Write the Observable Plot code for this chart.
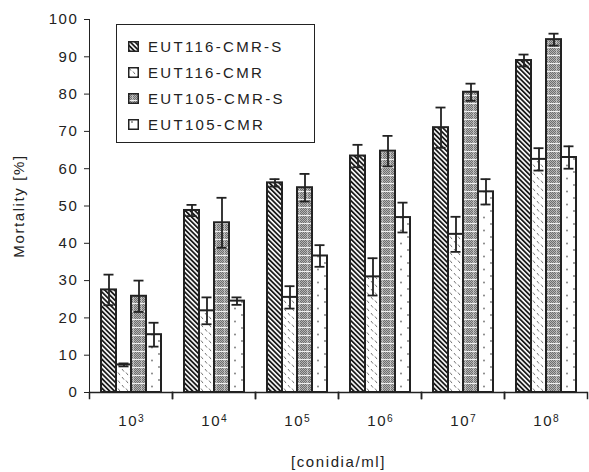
<!DOCTYPE html>
<html>
<head>
<meta charset="utf-8">
<script src="https://cdn.jsdelivr.net/npm/d3@7"></script>
<script src="https://cdn.jsdelivr.net/npm/@observablehq/plot@0.6"></script>
<style>
  body { margin: 0; background: #fff; }
  #wrap { position: relative; width: 589px; height: 472px; font-family: "Liberation Sans", Arial, sans-serif; color: #222; }
  #legend { position: absolute; left: 116px; top: 24px; width: 199px; height: 119px; border: 1.5px solid #222; background: #fff; box-sizing: border-box; padding: 8px 0 0 11px; }
  .row { display: flex; align-items: center; height: 26px; font-size: 15px; letter-spacing: 2.3px; }
  .row svg { margin-right: 9px; flex: none; }
</style>
</head>
<body>
<svg width="0" height="0" style="position:absolute">
  <defs>
    <pattern id="pStripe" patternUnits="userSpaceOnUse" width="3.4" height="3.4" patternTransform="rotate(-45)">
      <rect width="3.4" height="3.4" fill="#fff"/>
      <rect width="1.8" height="3.4" fill="#1a1a1a"/>
    </pattern>
    <pattern id="pDash" patternUnits="userSpaceOnUse" width="8" height="8">
      <rect width="8" height="8" fill="#fff"/>
      <line x1="1" y1="1" x2="3" y2="3.6" stroke="#777" stroke-width="1"/>
      <line x1="5" y1="4.5" x2="7" y2="7.1" stroke="#777" stroke-width="1"/>
    </pattern>
    <pattern id="pChk" patternUnits="userSpaceOnUse" width="2" height="2">
      <rect width="2" height="2" fill="#b4b4b4"/>
      <rect width="1" height="1" fill="#6e6e6e"/>
      <rect x="1" y="1" width="1" height="1" fill="#6e6e6e"/>
    </pattern>
    <pattern id="pGrid" patternUnits="userSpaceOnUse" width="8" height="8">
      <rect width="8" height="8" fill="url(#pChk)"/>
      <rect y="7" width="8" height="1" fill="#fff" opacity="0.85"/>
      <rect x="4" width="1" height="8" fill="#fff" opacity="0.35"/>
    </pattern>
    <pattern id="pDot" patternUnits="userSpaceOnUse" width="14" height="13">
      <rect width="14" height="13" fill="#fff"/>
      <circle cx="4" cy="3" r="0.9" fill="#777"/>
      <circle cx="11" cy="9.5" r="0.9" fill="#777"/>
    </pattern>
  </defs>
</svg>
<div id="wrap">
  <div id="chart"></div>
  <div id="legend"></div>
</div>
<script>
// ---- data ----
const concentrations = ["10³", "10⁴", "10⁵", "10⁶", "10⁷", "10⁸"];
const seriesNames = ["EUT116-CMR-S", "EUT116-CMR", "EUT105-CMR-S", "EUT105-CMR"];
const eut116S     = [27.5, 48.8, 56.2, 63.4, 71.0, 89.0];
const eut116SErr  = [4.1, 1.5, 1.0, 3.0, 5.4, 1.6];
const eut116      = [7.4, 21.9, 25.5, 31.0, 42.4, 62.5];
const eut116Err   = [0.4, 3.6, 3.0, 5.0, 4.7, 3.0];
const eut105S     = [25.8, 45.5, 54.9, 64.7, 80.5, 94.6];
const eut105SErr  = [4.2, 6.7, 3.7, 4.1, 2.3, 1.6];
const eut105      = [15.5, 24.5, 36.6, 46.9, 53.8, 63.0];
const eut105Err   = [3.2, 1.0, 2.9, 4.0, 3.4, 3.0];
const yTicks = [0, 10, 20, 30, 40, 50, 60, 70, 80, 90, 100];

const patterns = ["url(#pStripe)", "url(#pDash)", "url(#pGrid)", "url(#pDot)"];

const valueSets = [eut116S, eut116, eut105S, eut105];
const errSets = [eut116SErr, eut116Err, eut105SErr, eut105Err];
const rows = [];
concentrations.forEach((c, i) => {
  seriesNames.forEach((s, j) => {
    rows.push({conc: c, series: s, v: valueSets[j][i], e: errSets[j][i]});
  });
});

const ink = "#222";
const chart = Plot.plot({
  width: 589,
  height: 472,
  marginLeft: 88,
  marginRight: 1,
  marginTop: 19,
  marginBottom: 80,
  style: {fontFamily: "'Liberation Sans', Arial, sans-serif", fontSize: "15px", color: ink, background: "#fff", letterSpacing: "1.6px"},
  fx: {domain: concentrations, padding: 0, tickSize: 0, tickPadding: 23, label: "[conidia/ml]", labelAnchor: "center", labelOffset: 74},
  x: {domain: seriesNames, paddingInner: 0, paddingOuter: 0.625, axis: null},
  y: {domain: [0, 100], ticks: yTicks, tickSize: 5, tickPadding: 6, line: true, label: "Mortality [%]", labelAnchor: "center", labelOffset: 76, labelArrow: "none"},
  color: {domain: seriesNames, range: patterns},
  marks: [
    Plot.barY(rows, {fx: "conc", x: "series", y: "v", fill: "series", stroke: ink, strokeWidth: 2}),
    Plot.ruleX(rows, {fx: "conc", x: "series", y1: d => d.v - d.e, y2: d => d.v + d.e, stroke: ink, strokeWidth: 1.8}),
    Plot.tickY(rows, {fx: "conc", x: "series", y: d => d.v + d.e, stroke: ink, strokeWidth: 1.8, insetLeft: 2.5, insetRight: 2.5}),
    Plot.tickY(rows, {fx: "conc", x: "series", y: d => d.v - d.e, stroke: ink, strokeWidth: 1.8, insetLeft: 2.5, insetRight: 2.5}),
    Plot.ruleY([0], {stroke: ink, strokeWidth: 1.5}),
    Plot.frame({anchor: "left", insetTop: 373, insetBottom: -6, stroke: ink, strokeWidth: 1.5}),
    Plot.frame({anchor: "right", insetTop: 373, insetBottom: -6, stroke: ink, strokeWidth: 1.5})
  ]
});
document.getElementById("chart").appendChild(chart);

// superscript exponents on the concentration tick labels
const supMap = {"³": "3", "⁴": "4", "⁵": "5", "⁶": "6", "⁷": "7", "⁸": "8"};
d3.select(chart).selectAll('g[aria-label="fx-axis tick label"] text').each(function () {
  const t = this.textContent;
  const base = t.slice(0, -1), exp = supMap[t.slice(-1)] ?? t.slice(-1);
  const sel = d3.select(this);
  sel.text(null);
  sel.append("tspan").text(base);
  sel.append("tspan").attr("dy", "-0.45em").attr("font-size", "0.68em").attr("letter-spacing", "0").text(exp);
});

// ---- legend ----
const legend = document.getElementById("legend");
seriesNames.forEach((s, j) => {
  const row = document.createElement("div");
  row.className = "row";
  row.innerHTML = `<svg width="11" height="11"><rect x="0.75" y="0.75" width="9.5" height="9.5" fill="${patterns[j]}" stroke="${ink}" stroke-width="1.5"/></svg><span>${s}</span>`;
  legend.appendChild(row);
});
</script>
</body>
</html>
